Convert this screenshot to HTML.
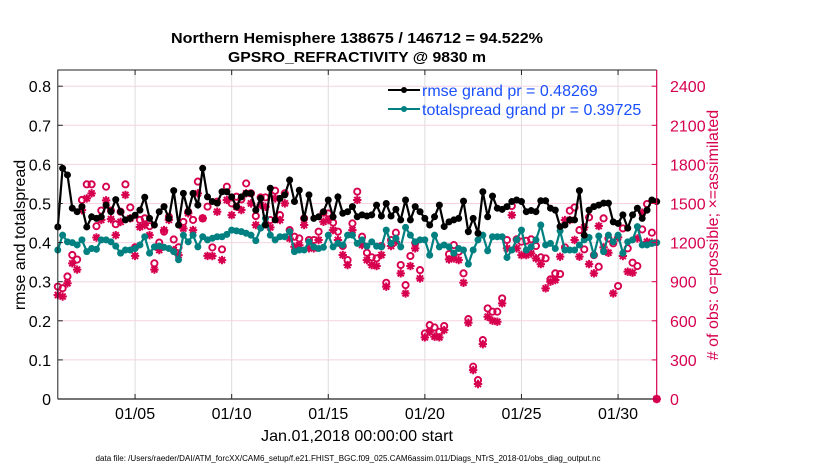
<!DOCTYPE html>
<html><head><meta charset="utf-8">
<style>
html,body{margin:0;padding:0;background:#fff;}
svg{display:block;font-family:"Liberation Sans",Arial,sans-serif;}
</style></head>
<body>
<svg id="chart" width="830" height="470" viewBox="0 0 830 470" xmlns="http://www.w3.org/2000/svg">
  <g id="grid"></g>
  <g id="series"></g>
  <g id="axes"></g>
  <text x="357" y="43" text-anchor="middle" font-size="15" font-weight="bold" textLength="372" lengthAdjust="spacingAndGlyphs">Northern Hemisphere 138675 / 146712 = 94.522%</text>
  <text x="357" y="62" text-anchor="middle" font-size="15" font-weight="bold" textLength="258" lengthAdjust="spacingAndGlyphs">GPSRO_REFRACTIVITY @ 9830 m</text>
  <text transform="translate(25,235) rotate(-90)" text-anchor="middle" font-size="16">rmse and totalspread</text>
  <text transform="translate(718,235) rotate(-90)" text-anchor="middle" font-size="16" fill="#d6004f">#  of obs: o=possible; ×=assimilated</text>
  <text x="357" y="441" text-anchor="middle" font-size="16" textLength="192" lengthAdjust="spacingAndGlyphs">Jan.01,2018 00:00:00 start</text>
  <text x="348" y="461" text-anchor="middle" font-size="8" textLength="505" lengthAdjust="spacingAndGlyphs">data file: /Users/raeder/DAI/ATM_forcXX/CAM6_setup/f.e21.FHIST_BGC.f09_025.CAM6assim.011/Diags_NTrS_2018-01/obs_diag_output.nc</text>
  <g>
    <g>
      <line x1="388" y1="90" x2="420" y2="90" stroke="#000" stroke-width="2"/>
      <circle cx="404" cy="90" r="3" fill="#000"/>
      <text x="422" y="96" font-size="16" fill="#1a4fff">rmse grand pr = 0.48269</text>
    </g>
    <g>
      <line x1="388" y1="109" x2="420" y2="109" stroke="#008080" stroke-width="2"/>
      <circle cx="404" cy="109" r="3" fill="#008080"/>
      <text x="422" y="115" font-size="16" fill="#1a4fff">totalspread grand pr = 0.39725</text>
    </g>
  </g>
</svg>
<script>
// ---- data ----
const xTickDays = [4, 9, 14, 19, 24, 29];
const xTickLabels = ["01/05","01/10","01/15","01/20","01/25","01/30"];
const yTicks = [0,0.1,0.2,0.3,0.4,0.5,0.6,0.7,0.8];
const yTickLabels = ["0","0.1","0.2","0.3","0.4","0.5","0.6","0.7","0.8"];
const y2Ticks = [0,300,600,900,1200,1500,1800,2100,2400];
const binStepDays = 0.25;
const rmse = [
0.44,0.59,0.573,0.488,0.479,0.492,0.44,0.466,0.462,0.466,0.496,0.479,0.51,0.479,0.458,0.462,0.47,0.483,0.516,0.462,0.445,0.479,0.492,0.462,0.533,0.445,0.526,0.479,0.526,0.496,0.59,0.517,
0.505,0.501,0.53,0.53,0.517,0.492,0.517,0.526,0.526,0.483,0.513,0.445,0.539,0.458,0.513,0.522,0.56,0.505,0.534,0.462,0.522,0.462,0.466,0.479,0.509,0.466,0.517,0.475,0.479,0.492,0.466,
0.471,0.468,0.471,0.496,0.468,0.5,0.468,0.485,0.458,0.509,0.458,0.492,0.479,0.462,0.445,0.466,0.496,0.441,0.453,0.458,0.462,0.506,0.428,0.462,0.424,0.53,0.466,0.519,0.488,0.485,0.492,
0.505,0.509,0.505,0.479,0.482,0.479,0.507,0.507,0.488,0.483,0.441,0.445,0.458,0.458,0.533,0.419,0.483,0.492,0.496,0.501,0.501,0.453,0.449,0.471,0.437,0.471,0.488,0.462,0.483,0.509,0.505];
const totalspread = [
0.381,0.419,0.402,0.4,0.394,0.407,0.377,0.385,0.383,0.407,0.407,0.402,0.391,0.373,0.381,0.381,0.385,0.394,0.415,0.373,0.389,0.391,0.388,0.385,0.377,0.356,0.419,0.402,0.419,0.389,0.415,0.407,
0.411,0.415,0.415,0.421,0.432,0.43,0.428,0.424,0.419,0.405,0.437,0.462,0.419,0.407,0.415,0.415,0.428,0.377,0.381,0.381,0.402,0.389,0.385,0.388,0.419,0.389,0.398,0.394,0.419,0.419,0.398,
0.407,0.391,0.402,0.391,0.389,0.432,0.398,0.411,0.389,0.439,0.419,0.402,0.407,0.407,0.368,0.419,0.389,0.394,0.389,0.373,0.385,0.381,0.345,0.381,0.407,0.419,0.379,0.415,0.415,0.415,0.362,
0.381,0.407,0.432,0.381,0.389,0.407,0.445,0.394,0.398,0.385,0.43,0.381,0.381,0.381,0.394,0.407,0.413,0.368,0.417,0.377,0.419,0.402,0.419,0.373,0.402,0.407,0.441,0.394,0.394,0.398,0.40];
const nPossible = [
862,850,940,1105,1070,1527,1647,1647,1326,1446,1629,1446,1341,1437,1647,1470,1164,1374,1386,1326,1041,1200,1284,1398,1224,1164,1359,1437,1374,1668,1386,1476,
1163,1514,1148,1629,1501,1552,1532,1654,1578,1404,1547,1547,1373,1598,1411,1578,1296,1245,1232,1386,1220,1220,1284,1429,1424,1353,1284,1174,1066,1347,1591,
1245,1122,1087,1079,1174,892,1220,1276,1028,874,1097,1199,989,503,567,549,516,560,1112,1181,1130,964,613,248,145,452,695,670,670,772,1220,
1481,1225,1207,1214,1225,1174,1087,1079,918,964,959,1163,1445,1470,1296,1148,1394,1104,1015,1386,1232,1194,867,1309,1156,1046,1020,1301,1496,1276,0];
const nAssimilated = [
798,786,888,1041,993,1449,1539,1578,1239,1374,1524,1380,1257,1359,1566,1386,1098,1320,1335,1257,993,1143,1296,1374,1143,1104,1308,1425,1296,1578,1386,1098,
1097,1437,1066,1527,1411,1475,1450,1578,1501,1335,1488,1475,1317,1539,1373,1501,1232,1168,1181,1335,1156,1156,1220,1360,1373,1296,1220,1105,1028,1296,1527,
1181,1066,1028,1020,1105,862,1174,1207,964,810,1020,1156,925,473,516,478,473,529,1071,1079,1066,892,585,222,115,421,631,601,593,734,1156,
1411,1156,1104,1104,1117,1079,1035,849,900,913,1092,1373,1373,1220,1092,1317,1035,964,1327,1163,1122,810,1240,1097,977,969,1232,1429,1207,1200,0];

// ---- scales ----
const X0=57.8, X1=656.7, Y0=399, Y1=70;
const dayMax=31, vMax=(Y0-Y1)/391, cMax=vMax*3000;
const xs = d => X0 + d/dayMax*(X1-X0);
const ys = v => Y0 - v/vMax*(Y0-Y1);
const yc = c => Y0 - c/cMax*(Y0-Y1);
const NS="http://www.w3.org/2000/svg";
function mk(tag, attrs, parent){const e=document.createElementNS(NS,tag);for(const k in attrs)e.setAttribute(k,attrs[k]);parent.appendChild(e);return e;}
const grid=document.getElementById('grid'), series=document.getElementById('series'), axes=document.getElementById('axes');

// grid
xTickDays.forEach((d,i)=>{
  const g=mk('line',{x1:xs(d),x2:xs(d),y1:Y1,y2:Y0,stroke:'#dcdcdc','stroke-width':1},grid);
  
  
});
y2Ticks.forEach(c=>{
  if(c===0) return;
  const g=mk('line',{x1:X0,x2:X1,y1:yc(c),y2:yc(c),stroke:'#f6d3df','stroke-width':1},grid);
  
  
});

// counts
const red='#d6004f';
nAssimilated.forEach((c,i)=>{
  const x=xs(i*binStepDays), y=yc(c), r=4.2;
  const g=mk('path',{d:`M${x-r},${y}H${x+r}M${x},${y-r}V${y+r}M${x-r*0.72},${y-r*0.72}L${x+r*0.72},${y+r*0.72}M${x-r*0.72},${y+r*0.72}L${x+r*0.72},${y-r*0.72}`,stroke:red,'stroke-width':2,fill:'none'},series);
  
  
});
nPossible.forEach((c,i)=>{
  const g=mk('circle',{cx:xs(i*binStepDays),cy:yc(c),r:3.1,stroke:red,'stroke-width':1.9,fill:'none'},series);
  
  
});

// lines
function drawLine(vals,color,name){
  const pts=vals.map((v,i)=>xs(i*binStepDays).toFixed(1)+','+ys(v).toFixed(1)).join(' ');
  const pl=mk('polyline',{points:pts,fill:'none',stroke:color,'stroke-width':2.2},series);
  
  
  vals.forEach((v,i)=>{
    const c=mk('circle',{cx:xs(i*binStepDays),cy:ys(v),r:3.5,fill:color},series);
    
    
  });
}
drawLine(totalspread,'#008080','totalspread');
drawLine(rmse,'#000000','rmse');

// axes frame
const fr=mk('path',{d:`M${X0},${Y0}V${Y1}H${X1}`,stroke:'#222','stroke-width':1,fill:'none'},axes);


const xa=mk('line',{x1:X0,x2:X1,y1:Y0,y2:Y0,stroke:'#222','stroke-width':1.2},axes);


const ra=mk('line',{x1:X1,x2:X1,y1:Y1,y2:Y0,stroke:red,'stroke-width':1.2},axes);



xTickDays.forEach((d,i)=>{
  mk('line',{x1:xs(d),x2:xs(d),y1:Y0,y2:Y0-5,stroke:'#222'},axes);
  mk('line',{x1:xs(d),x2:xs(d),y1:Y1,y2:Y1+5,stroke:'#222'},axes);
  const t=mk('text',{x:xs(d),y:419,'text-anchor':'middle','font-size':16},axes);
  t.textContent=xTickLabels[i];
  
  
});
yTicks.forEach((v,i)=>{
  mk('line',{x1:X0,x2:X0+5,y1:ys(v),y2:ys(v),stroke:'#222'},axes);
  const t=mk('text',{x:51,y:ys(v)+6,'text-anchor':'end','font-size':16},axes);
  t.textContent=yTickLabels[i];
  
  
});
y2Ticks.forEach(c=>{
  mk('line',{x1:X1,x2:X1-5,y1:yc(c),y2:yc(c),stroke:red},axes);
  const t=mk('text',{x:670,y:yc(c)+6,'font-size':16,fill:red},axes);
  t.textContent=String(c);
  
  
});
</script>
</body></html>
